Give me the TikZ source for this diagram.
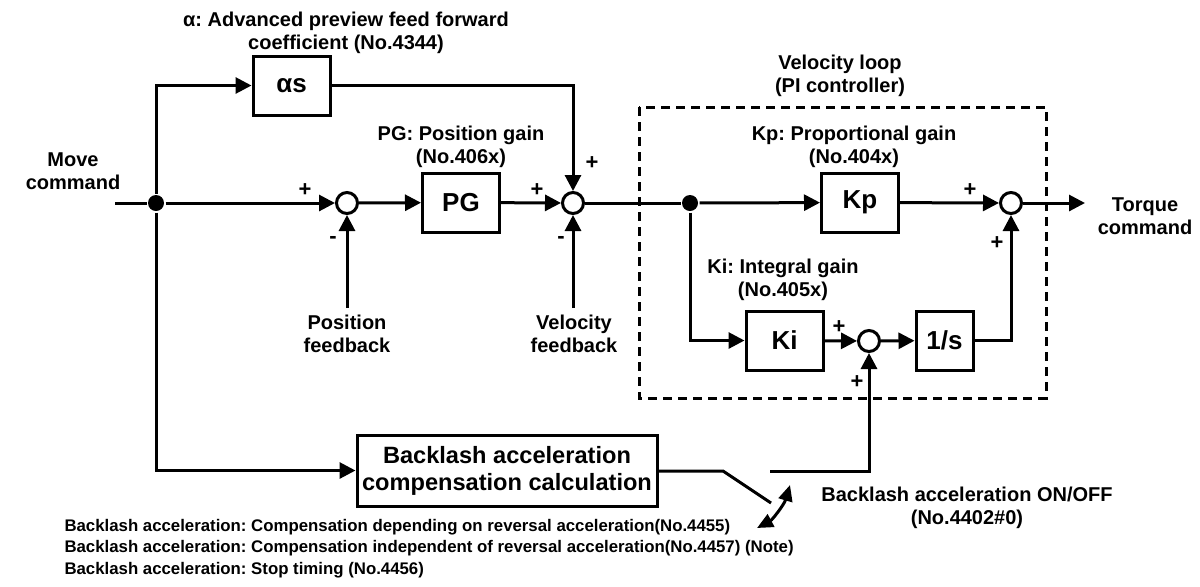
\documentclass[tikz,border=0pt]{standalone}
\usepackage{fontspec}
\setmainfont{Liberation Sans}
\usetikzlibrary{arrows.meta}
\frenchspacing
\begin{document}
\begin{tikzpicture}[x=0.5pt,y=-0.5pt,
  line width=1.5pt,
  >={Triangle[length=8pt,width=8pt]},
  blk/.style={draw,line width=1.5pt,minimum width=#1,minimum height=29.5pt,inner sep=0pt,font=\fontsize{13}{15}\selectfont\bfseries},
  blk/.default=38.5pt,
  sumc/.style={circle,draw,fill=white,line width=1.5pt,minimum size=10.5pt,inner sep=0pt},
  dot/.style={circle,fill=black,minimum size=8pt,inner sep=0pt},
  lbl/.style={align=center,font=\fontsize{10}{11.5}\selectfont\bfseries,inner sep=0pt},
  sgn/.style={font=\fontsize{11}{12}\selectfont\bfseries,inner sep=0pt},
  note/.style={align=left,font=\fontsize{8.4}{10.6}\selectfont\bfseries,inner sep=0pt,anchor=north west}
]
\useasboundingbox (0,0) rectangle (1200,586);

% dashed velocity loop box
\draw[dashed,dash pattern=on 4.5pt off 3pt,line width=1.5pt] (639,107) rectangle (1046,398);

% nodes
\coordinate (in) at (115,203);
\node[dot] (j1) at (156,203) {};
\node[blk] (as) at (291.5,85.5) {αs};
\node[sumc] (s1) at (347,203) {};
\node[blk] (pg) at (461,202.5) {PG};
\node[sumc] (s2) at (573,203) {};
\node[dot] (j2) at (690,203) {};
\node[blk] (kp) at (860,202.5) {Kp};
\node[sumc] (s3) at (1011,203) {};
\coordinate (out) at (1085,203);
\node[blk] (ki) at (784.5,340.5) {Ki};
\node[sumc] (s4) at (869,341) {};
\node[blk=28.5pt] (is) at (944.5,340.5) {1/s};
\node[draw,line width=1.5pt,minimum width=150pt,minimum height=35.5pt,inner sep=0pt,align=center,
      font=\fontsize{11.8}{13.5}\selectfont\bfseries] (bl) at (507,470.5)
      {Backlash acceleration\\compensation calculation};
\coordinate (pf) at (347,308);
\coordinate (vf) at (573,308);
\coordinate (sw1) at (723,471);
\coordinate (sw2) at (771,503);
\coordinate (sw3) at (770,471);
\coordinate (sw4) at (869,471);
\coordinate (ca) at (757,528);
\coordinate (cb) at (790,485);

% connectors
\draw (in) -- (j1);
\draw[->] (j1) -- (s1);
\draw[->] (j1) |- (as);
\draw[->] (as) -| (s2);
\draw[->] (s1) -- (pg);
\draw[->] (pg) -- (s2);
\draw (s2) -- (j2);
\draw[->] (j2) -- (kp);
\draw[->] (kp) -- (s3);
\draw[->] (s3) -- (out);
\draw[->] (j2) |- (ki);
\draw[->] (ki) -- (s4);
\draw[->] (s4) -- (is);
\draw[->] (is) -| (s3);
\draw[->] (pf) -- (s1);
\draw[->] (vf) -- (s2);
\draw[->] (j1) |- (bl);
\draw (bl.east |- sw1) -- (sw1) -- (sw2);
\draw[->] (sw3) -- (sw4) -- (s4);
\draw[line width=1.5pt,{Triangle[length=8pt,width=7pt]}-{Triangle[length=8pt,width=7pt]}]
  (ca) .. controls (772,520) and (784,505) .. (cb);

% signs
\node[sgn] (p1) at (305,190) {+};
\node[sgn] (m1) at (333,240) {-};
\node[sgn] (p2) at (537,190) {+};
\node[sgn] (p3) at (592,163) {+};
\node[sgn] (m2) at (561,240) {-};
\node[sgn] (p4) at (970,190) {+};
\node[sgn] (p5) at (997,243) {+};
\node[sgn] (p6) at (839,327) {+};
\node[sgn] (p7) at (857,382) {+};

% labels
\node[lbl] (tmove) at (73,171.5) {Move\\command};
\node[lbl] (ttorq) at (1145,216.5) {Torque\\command};
\node[lbl] (talpha) at (346,32.5) {α: Advanced preview feed forward\\coefficient (No.4344)};
\node[lbl] (tpg) at (461,146.5) {PG: Position gain\\(No.406x)};
\node[lbl] (tvl) at (840,76) {Velocity loop\\(PI controller)};
\node[lbl] (tkp) at (854,146.5) {Kp: Proportional gain\\(No.404x)};
\node[lbl] (tki) at (783,280) {Ki: Integral gain\\(No.405x)};
\node[lbl] (tpf) at (347,333.5) {Position\\feedback};
\node[lbl] (tvf) at (574,333.5) {Velocity\\feedback};
\node[lbl] (tsw) at (967,508) {Backlash acceleration ON/OFF\\(No.4402\#0)};
\node[note] (tnote) at (63,518) {Backlash acceleration: Compensation depending on reversal acceleration(No.4455)\\
Backlash acceleration: Compensation independent of reversal acceleration(No.4457) (Note)\\
Backlash acceleration: Stop timing (No.4456)};
\end{tikzpicture}
\end{document}
